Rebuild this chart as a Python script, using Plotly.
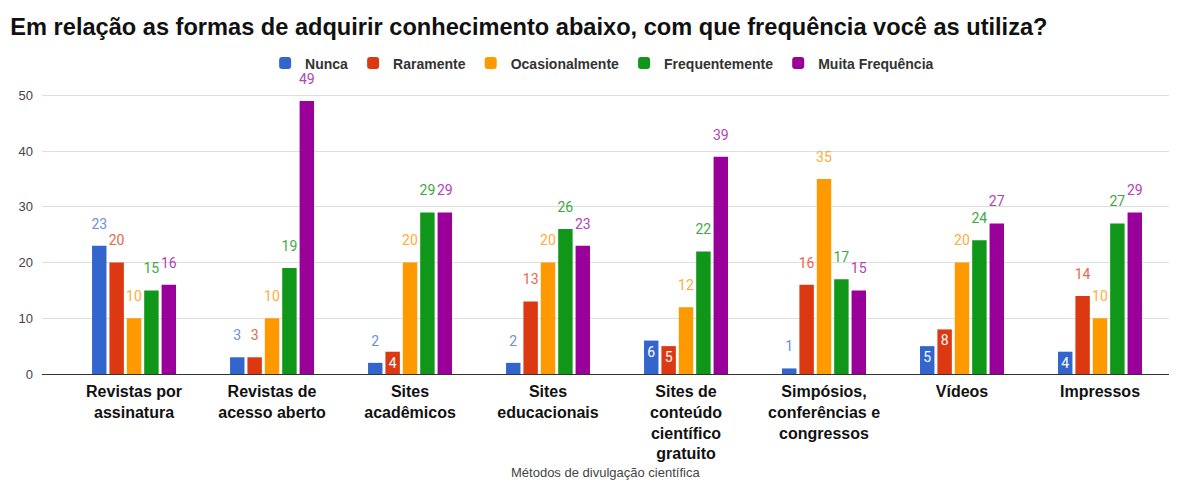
import plotly.graph_objects as go

categories = [
    "Revistas por<br>assinatura",
    "Revistas de<br>acesso aberto",
    "Sites<br>acadêmicos",
    "Sites<br>educacionais",
    "Sites de<br>conteúdo<br>científico<br>gratuito",
    "Simpósios,<br>conferências e<br>congressos",
    "Vídeos",
    "Impressos",
]

nunca = [23, 3, 2, 2, 6, 1, 5, 4]
raramente = [20, 3, 4, 13, 5, 16, 8, 14]
ocasionalmente = [10, 10, 20, 20, 12, 35, 20, 10]
frequentemente = [15, 19, 29, 26, 22, 17, 24, 27]
muita_frequencia = [16, 49, 29, 23, 39, 15, 27, 29]

series = [
    ("Nunca", nunca, "#3366cc", "#6d8fdc"),
    ("Raramente", raramente, "#dc3912", "#e8674c"),
    ("Ocasionalmente", ocasionalmente, "#ff9900", "#ffac3a"),
    ("Frequentemente", frequentemente, "#109618", "#3daa43"),
    ("Muita Frequência", muita_frequencia, "#990099", "#b443b4"),
]

LABEL_GAP = 2  # extra room (in axis units) between a bar top and its outside label
x = list(range(len(categories)))

fig = go.Figure()
for i, (name, vals, color, label_color) in enumerate(series):
    # small bars that still fit a digit get a white label inside
    inside = [4 <= v <= 8 for v in vals]
    fig.add_trace(go.Bar(
        x=x, y=vals, name=f"<b>{name}</b>", offsetgroup=str(i),
        marker=dict(color=color, line=dict(width=0)),
        text=[str(v) if f else "" for v, f in zip(vals, inside)],
        textposition="inside", insidetextanchor="end", textangle=0,
        insidetextfont=dict(color="white", size=14, family="Roboto"),
        cliponaxis=False, hoverinfo="skip",
    ))
    # invisible carrier bar sitting on top, so outside labels float a bit higher
    fig.add_trace(go.Bar(
        x=x, y=[LABEL_GAP] * len(vals), base=vals, offsetgroup=str(i),
        marker=dict(color="rgba(0,0,0,0)", line=dict(width=0)),
        text=["" if f else str(v) for v, f in zip(vals, inside)],
        textposition="outside", textangle=0, cliponaxis=False, constraintext="none",
        outsidetextfont=dict(color=label_color, size=14, family="Roboto"),
        showlegend=False, hoverinfo="skip",
    ))

fig.update_layout(
    width=1172, height=474,
    paper_bgcolor="white", plot_bgcolor="white",
    font=dict(family="Roboto", color="#222"),
    title=dict(
        text="<b>Em relação as formas de adquirir conhecimento abaixo, com que frequência você as utiliza?</b>",
        x=0.002, xanchor="left", y=0.96, yanchor="middle",
        font=dict(size=23.6, color="#111", family="Liberation Sans"),
    ),
    barmode="group", bargap=0.37, bargroupgap=0.17, barcornerradius=2,
    margin=dict(l=34, r=11, t=78.6, b=108, autoexpand=False),
    showlegend=True,
    legend=dict(
        orientation="h", x=0.497, xanchor="center", y=1.082, yanchor="middle",
        font=dict(size=14, color="#333", family="Liberation Sans"),
        itemwidth=30, tracegroupgap=0, bgcolor="rgba(0,0,0,0)",
    ),
    annotations=[dict(
        text="Métodos de divulgação científica", xref="paper", yref="paper",
        x=0.5, y=-0.342, xanchor="center", yanchor="middle", showarrow=False,
        font=dict(size=13, color="#444", family="Liberation Sans"),
    )],
)

fig.update_xaxes(
    range=[-0.667, 7.5], automargin=False,
    tickvals=x, ticktext=[f"<b>{c}</b>" for c in categories],
    tickfont=dict(size=16, color="#111", family="Liberation Sans"),
    showgrid=False, showline=False, zeroline=False, ticks="", ticklabelstandoff=6,
)
fig.update_yaxes(
    range=[0, 51.5], tickvals=[0, 10, 20, 30, 40, 50], automargin=False,
    tickfont=dict(size=13, color="#444", family="Liberation Sans"),
    gridcolor="#dedede", zeroline=True, zerolinecolor="#333", zerolinewidth=1,
    ticks="", ticklabelstandoff=8,
)

fig.write_html("out.html")
